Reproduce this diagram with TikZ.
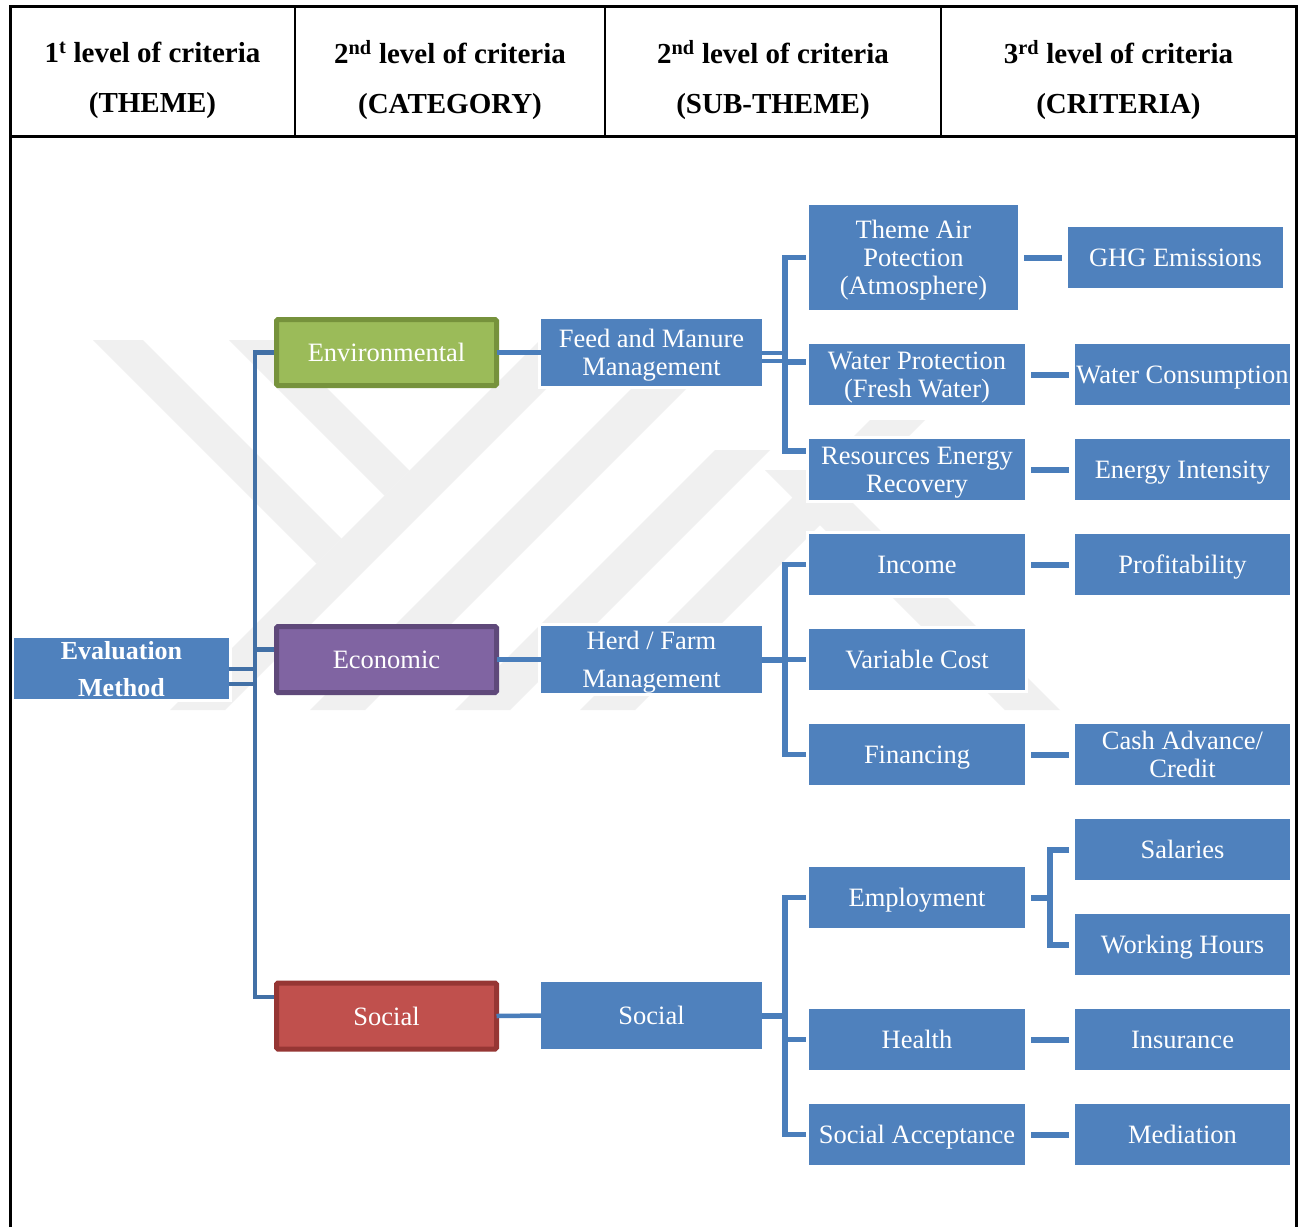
\documentclass[tikz,border=0pt]{standalone}
\usepackage{fontspec}
\setmainfont{Liberation Serif}
\usetikzlibrary{calc}

\definecolor{boxblue}{RGB}{79,129,189}
\definecolor{lineblue}{RGB}{74,126,187}
\definecolor{trunkblue}{RGB}{66,112,166}
\definecolor{envfill}{RGB}{155,187,89}
\definecolor{envedge}{RGB}{118,146,60}
\definecolor{ecofill}{RGB}{128,100,162}
\definecolor{ecoedge}{RGB}{95,73,122}
\definecolor{socfill}{RGB}{192,80,77}
\definecolor{socedge}{RGB}{150,54,52}
\definecolor{wmgray}{RGB}{240,240,240}

\pgfdeclarelayer{wm}
\pgfdeclarelayer{bg}
\pgfsetlayers{wm,bg,main}

\begin{document}
\begin{tikzpicture}[x=1pt,y=-1pt,
  every node/.style={inner sep=0pt,outer sep=0pt,align=center,text=white,
    text depth=0pt,font=\fontsize{26.5}{28}\selectfont},
  bluebox/.style={fill=boxblue,minimum width=#1,minimum height=61pt,
    preaction={draw=white,line width=6pt}},
  bluebox/.default=216pt,
  catbox/.style n args={2}{fill=#1,draw=#2,line width=5pt,rounded corners=1.5pt,
    minimum width=220pt,minimum height=66pt},
  headtext/.style={text=black,font=\fontsize{29}{50}\selectfont\bfseries},
  tableline/.style={draw=black,line width=3pt},
  colline/.style={draw=black,line width=2pt},
  trunkline/.style={draw=trunkblue,line width=4.5pt},
  levelline/.style={draw=lineblue,line width=4.5pt},
  branchline/.style={draw=lineblue,line width=5.5pt},
  linkline/.style={draw=lineblue,line width=6pt,shorten <=6pt,shorten >=6pt},
]
\useasboundingbox (0,0) rectangle (1307,1227);

% ---------- paper and faint background emblem ----------
\begin{pgfonlayer}{wm}
  \fill[white] (0,0) rectangle (1307,1227);
  \begin{scope}[fill=wmgray]
    \fill (170,710) -- (225,710) -- (595,340) -- (540,340) -- cycle;
    \fill (310,710) -- (365,710) -- (735,340) -- (680,340) -- cycle;
    \fill (455,710) -- (510,710) -- (770,450) -- (715,450) -- cycle;
    \fill (580,710) -- (635,710) -- (925,420) -- (870,420) -- cycle;
    \fill (93,340) -- (143,340) -- (341.5,538.5) -- (316.5,563.5) -- cycle;
    \fill (229,340) -- (279,340) -- (409.5,470.5) -- (384.5,495.5) -- cycle;
    \fill (765,470) -- (820,470) -- (1060,710) -- (1005,710) -- cycle;
  \end{scope}
\end{pgfonlayer}

% ---------- header texts ----------
\node[headtext] (h1) at (152.5,77) {1\textsuperscript{t} level of criteria\\(THEME)};
\node[headtext] (h2) at (450,77) {2\textsuperscript{nd} level of criteria\\(CATEGORY)};
\node[headtext] (h3) at (773,77) {2\textsuperscript{nd} level of criteria\\(SUB-THEME)};
\node[headtext] (h4) at (1118.5,77) {3\textsuperscript{rd} level of criteria\\(CRITERIA)};

% ---------- root ----------
\node[bluebox=215pt] (eval) at (121.5,668.5) {};
\node[font=\fontsize{26}{28}\selectfont\bfseries] (evaltxt) at (eval.center) {Evaluation\\[9pt]Method};

% ---------- themes ----------
\node[catbox={envfill}{envedge}] (env) at (386.5,352.5) {Environmental};
\node[catbox={ecofill}{ecoedge}] (eco) at (386.5,659.5) {Economic};
\node[catbox={socfill}{socedge}] (soc1) at (386.5,1016) {Social};

% ---------- categories ----------
\node[bluebox=221pt,minimum height=67pt] (feed) at (651.5,352.5) {Feed and Manure\\Management};
\node[bluebox=221pt,minimum height=67pt] (herd) at (651.5,659.5) {Herd / Farm\\[10pt]Management};
\node[bluebox=221pt,minimum height=67pt] (soc2) at (651.5,1015.5) {Social};

% ---------- sub-themes ----------
\node[bluebox=209pt,minimum height=105pt] (air) at (913.5,257.5) {Theme Air\\Potection\\(Atmosphere)};
\node[bluebox] (water) at (917,374.5) {Water Protection\\(Fresh Water)};
\node[bluebox] (res) at (917,469.5) {Resources Energy\\Recovery};
\node[bluebox] (income) at (917,564.5) {Income};
\node[bluebox] (varc) at (917,659.5) {Variable Cost};
\node[bluebox] (fin) at (917,754.5) {Financing};
\node[bluebox] (emp) at (917,897.5) {Employment};
\node[bluebox] (health) at (917,1039.5) {Health};
\node[bluebox] (socacc) at (917,1134.5) {Social Acceptance};

% ---------- criteria ----------
\node[bluebox=215pt] (ghg) at (1175.5,257.5) {GHG Emissions};
\node[bluebox=215pt] (wc) at (1182.5,374.5) {Water Consumption};
\node[bluebox=215pt] (ei) at (1182.5,469.5) {Energy Intensity};
\node[bluebox=215pt] (prof) at (1182.5,564.5) {Profitability};
\node[bluebox=215pt] (cash) at (1182.5,754.5) {Cash Advance/\\Credit};
\node[bluebox=215pt] (sal) at (1182.5,849.5) {Salaries};
\node[bluebox=215pt] (wh) at (1182.5,944.5) {Working Hours};
\node[bluebox=215pt] (ins) at (1182.5,1039.5) {Insurance};
\node[bluebox=215pt] (med) at (1182.5,1134.5) {Mediation};

% ---------- bracket spines ----------
\coordinate (tA) at (255,0);
\coordinate (tB) at (785,0);
\coordinate (tC) at (1050,0);
\coordinate (ecojoin) at ([yshift=10pt]eco.west);
\coordinate (socjoin) at ([yshift=19pt]soc1.west);
\coordinate (waterjoin) at ([yshift=12.5pt]water.west);
\coordinate (resjoin) at ([yshift=18.5pt]res.west);

\begin{pgfonlayer}{bg}
  % themes
  \draw[trunkline] (env.west) -| (tA |- socjoin) -- (socjoin);
  \draw[trunkline] (tA |- ecojoin) -- (ecojoin);
  % environmental sub-themes
  \draw[branchline] (air.west) -| (tB |- resjoin) -- (resjoin);
  \draw[branchline] (tB |- waterjoin) -- (waterjoin);
  % economic sub-themes
  \draw[branchline] (income.west) -| (tB |- fin.west) -- (fin.west);
  \draw[branchline] (tB |- varc.west) -- (varc.west);
  % social sub-themes
  \draw[branchline] (emp.west) -| (tB |- socacc.west) -- (socacc.west);
  \draw[branchline] (tB |- health.west) -- (health.west);
  % criteria
  \draw[linkline] (air.east) -- (ghg.west);
  \draw[linkline] (water.east) -- (wc.west);
  \draw[linkline] (res.east) -- (ei.west);
  \draw[linkline] (income.east) -- (prof.west);
  \draw[linkline] (fin.east) -- (cash.west);
  \draw[linkline] (health.east) -- (ins.west);
  \draw[linkline] (socacc.east) -- (med.west);
  \draw[linkline,shorten >=0pt] (emp.east) -- (emp.east -| tC);
  \draw[linkline,shorten <=0pt] ([xshift=-6pt]sal.west) -| (tC |- wh.west) -- (wh.west);
\end{pgfonlayer}

% ---------- stubs touching the boxes ----------
\draw[trunkline,line width=4pt] (eval.east) -- (eval.east -| tA);
\draw[trunkline,line width=4pt] ([yshift=-15.5pt]eval.east) -- ([yshift=-15.5pt]eval.east -| tA);
\draw[levelline] (env.east) -- (feed.west);
\draw[levelline] (eco.east) -- (herd.west);
\draw[levelline] (soc1.east) -- (soc2.west);
\draw[branchline,line width=4pt] (feed.east) -- (feed.east -| tB);
\draw[branchline,line width=4pt] ([yshift=-8pt]feed.east) -- ([yshift=-8pt]feed.east -| tB);
\draw[branchline,line width=6pt] (herd.east) -- (herd.east -| tB);
\draw[branchline,line width=6pt] (soc2.east) -- (soc2.east -| tB);

% ---------- table frame ----------
\draw[tableline] (10,1227) -- (10,6) -- (1296,6) -- (1296,1227);
\draw[tableline] (10,136) -- (1296,136);
\draw[colline] (295,6) -- (295,136);
\draw[colline] (605,6) -- (605,136);
\draw[colline] (941,6) -- (941,136);
\end{tikzpicture}
\end{document}
